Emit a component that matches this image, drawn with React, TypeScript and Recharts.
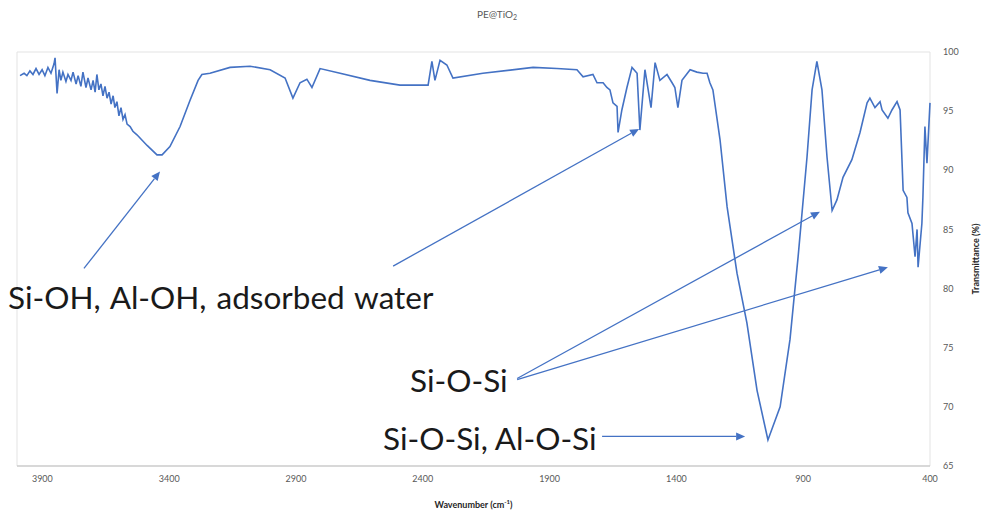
import React from 'react';
import { LineChart, Line, XAxis, YAxis, ReferenceLine, ReferenceArea, Label } from 'recharts';

// FTIR spectrum (wavenumber in cm-1, transmittance in %)
const wavenumbers = [
  3988, 3972, 3961, 3949, 3937, 3925, 3913, 3901, 3890, 3878, 3866, 3854, 3850, 3842, 3834, 3827,
  3819, 3807, 3799, 3787, 3779, 3767, 3759, 3748, 3740, 3728, 3720, 3708, 3700, 3692, 3685, 3677,
  3669, 3661, 3653, 3645, 3637, 3629, 3621, 3614, 3606, 3598, 3590, 3582, 3574, 3566, 3554, 3543,
  3527, 3487, 3448, 3428, 3397, 3357, 3318, 3286, 3271,
  3239, 3160, 3081, 3002, 2943, 2912, 2884, 2857, 2837, 2805, 2726, 2608, 2490, 2379, 2364, 2352,
  2332, 2305, 2281, 2163, 1965, 1871, 1792, 1768, 1729, 1713, 1689, 1674, 1662, 1650, 1634, 1630,
  1615, 1595, 1575, 1555, 1544, 1524, 1500, 1484, 1465, 1437, 1417, 1406, 1394, 1378, 1346, 1319,
  1295, 1279, 1268, 1256, 1228, 1200, 1161, 1122, 1082, 1039, 991, 952, 920, 885, 865, 846,
  826, 806, 786, 767, 743, 708, 676, 648, 637, 617, 597, 589, 566, 550, 530, 518,
  506, 491, 487, 471, 459, 451, 447, 432, 428, 420, 412, 400,
];
const transmittance = [
  98.0, 98.2, 98.0, 98.4, 98.1, 98.6, 98.1, 98.5, 98.0, 98.7, 98.2, 99.0, 99.5, 96.5, 98.5, 97.6,
  98.3, 97.5, 98.1, 97.6, 98.3, 97.3, 98.0, 97.1, 98.3, 97.0, 97.8, 96.8, 97.6, 96.6, 98.1, 96.8,
  97.3, 96.3, 97.1, 96.1, 96.6, 95.6, 96.3, 95.3, 95.8, 94.6, 95.3, 94.3, 94.7, 93.9, 93.7, 93.3,
  93.0, 92.1, 91.3, 91.3, 92.0, 93.7, 95.9, 97.6, 98.1,
  98.2, 98.7, 98.8, 98.5, 97.8, 96.1, 97.4, 97.7, 97.0, 98.6, 98.2, 97.6, 97.2, 97.2, 99.2, 97.6,
  99.3, 98.9, 97.8, 98.2, 98.7, 98.6, 98.5, 97.9, 98.1, 97.4, 97.4, 97.0, 96.8, 95.7, 95.4, 93.2,
  95.1, 97.0, 98.7, 98.2, 93.4, 98.5, 95.3, 99.1, 97.6, 98.1, 97.4, 97.0, 95.3, 97.6, 98.5, 98.3,
  98.2, 98.2, 97.4, 96.8, 92.6, 86.9, 81.3, 77.1, 71.4, 67.2, 70.0, 75.7, 82.7, 91.1, 96.8, 99.2,
  96.8, 91.1, 86.6, 87.5, 89.4, 90.9, 93.2, 95.7, 96.1, 95.3, 95.8, 95.1, 94.4, 95.1, 95.8, 95.1,
  88.3, 87.7, 86.4, 85.5, 82.7, 85.0, 81.8, 85.5, 87.7, 93.7, 90.6, 95.7,
];
const xTicks = [3900, 3400, 2900, 2400, 1900, 1400, 900, 400];
const yTicks = [65, 70, 75, 80, 85, 90, 95, 100];

// annotation arrows, in data coordinates (wavenumber, %)
const arrows = [
  { from: [3736, 81.7], to: [3436, 89.9] },
  { from: [2517, 81.9], to: [1547, 93.5] },
  { from: [2028, 72.4], to: [834, 86.5] },
  { from: [2028, 72.3], to: [566, 81.8] },
  { from: [1693, 67.5], to: [1129, 67.5] },
];

const spectrum = wavenumbers.map((wn, i) => ({ wn, t: transmittance[i] }));

const BLUE = '#4472c4';
const FONT = 'Lato, "Open Sans", sans-serif';

const ArrowShape = (props: any) => {
  const { x1, y1, x2, y2 } = props;
  const ang = Math.atan2(y2 - y1, x2 - x1);
  const len = 9;
  const half = 4;
  const bx = x2 - len * Math.cos(ang);
  const by = y2 - len * Math.sin(ang);
  const px = -Math.sin(ang) * half;
  const py = Math.cos(ang) * half;
  return (
    <g>
      <line x1={x1} y1={y1} x2={bx} y2={by} stroke={BLUE} strokeWidth={1.3} />
      <polygon points={`${x2},${y2} ${bx + px},${by + py} ${bx - px},${by - py}`} fill={BLUE} />
    </g>
  );
};

const XTitle = ({ viewBox }: any) => {
  const { x, y, width } = viewBox;
  return (
    <text x={x + width / 2} y={y + 42} textAnchor="middle" fontSize={9} fontWeight="bold" fill="#262626" fontFamily={FONT}>
      Wavenumber (cm
      <tspan dy={-4} fontSize={6}>-1</tspan>
      <tspan dy={4}>)</tspan>
    </text>
  );
};

const YTitle = ({ viewBox }: any) => {
  const { x, y, height } = viewBox;
  const cx = x + 45;
  const cy = y + height / 2;
  return (
    <text x={cx} y={cy} transform={`rotate(-90, ${cx}, ${cy})`} textAnchor="middle" dominantBaseline="central"
      fontSize={9} fontWeight="bold" fill="#262626" fontFamily={FONT}>
      Transmittance (%)
    </text>
  );
};

const App: React.FC = () => {
  return (
    <div style={{ position: 'absolute', left: 0, top: 0, width: 985, height: 517, background: '#fff' }}>
      <LineChart width={985} height={517} data={spectrum} margin={{ top: 52, right: 0, left: 17, bottom: 21 }}>
        <ReferenceArea x1={4000} x2={400} y1={65} y2={100} fill="none" stroke="#e3e3e3" strokeWidth={1} />
        <XAxis
          dataKey="wn"
          type="number"
          domain={[400, 4000]}
          reversed
          ticks={xTicks}
          interval={0}
          height={30}
          tickLine={false}
          axisLine={{ stroke: '#bfbfbf' }}
          tickMargin={4}
          tick={{ fontSize: 9, fill: '#595959', fontFamily: FONT }}
        >
          <Label content={XTitle} />
        </XAxis>
        <YAxis
          orientation="right"
          type="number"
          domain={[65, 100]}
          ticks={yTicks}
          interval={0}
          width={55}
          tickLine={false}
          axisLine={false}
          tickMargin={7}
          tick={{ fontSize: 9, fill: '#595959', fontFamily: FONT, textAnchor: 'start' }}
        >
          <Label content={YTitle} />
        </YAxis>
        <Line type="linear" dataKey="t" stroke={BLUE} strokeWidth={1.6} dot={false} isAnimationActive={false} />
        {arrows.map((a, i) => (
          <ReferenceLine
            key={i}
            segment={[{ x: a.from[0], y: a.from[1] }, { x: a.to[0], y: a.to[1] }]}
            shape={ArrowShape}
          />
        ))}
      </LineChart>
      <svg width={985} height={517} style={{ position: 'absolute', left: 0, top: 0, pointerEvents: 'none' }}>
        <text x={497} y={14} textAnchor="middle" dominantBaseline="central" fontSize={10} fill="#595959" fontFamily={FONT}>
          PE@TiO<tspan fontSize={7} dy={3}>2</tspan>
        </text>
        <g fontFamily={FONT} fill="#1a1a1a" fontSize={31.5}>
          <text x={8} y={297} dominantBaseline="central" wordSpacing={2}>Si-OH, Al-OH, adsorbed water</text>
          <text x={410} y={380} dominantBaseline="central">Si-O-Si</text>
          <text x={383} y={438} dominantBaseline="central">Si-O-Si, Al-O-Si</text>
        </g>
      </svg>
    </div>
  );
};

export default App;
